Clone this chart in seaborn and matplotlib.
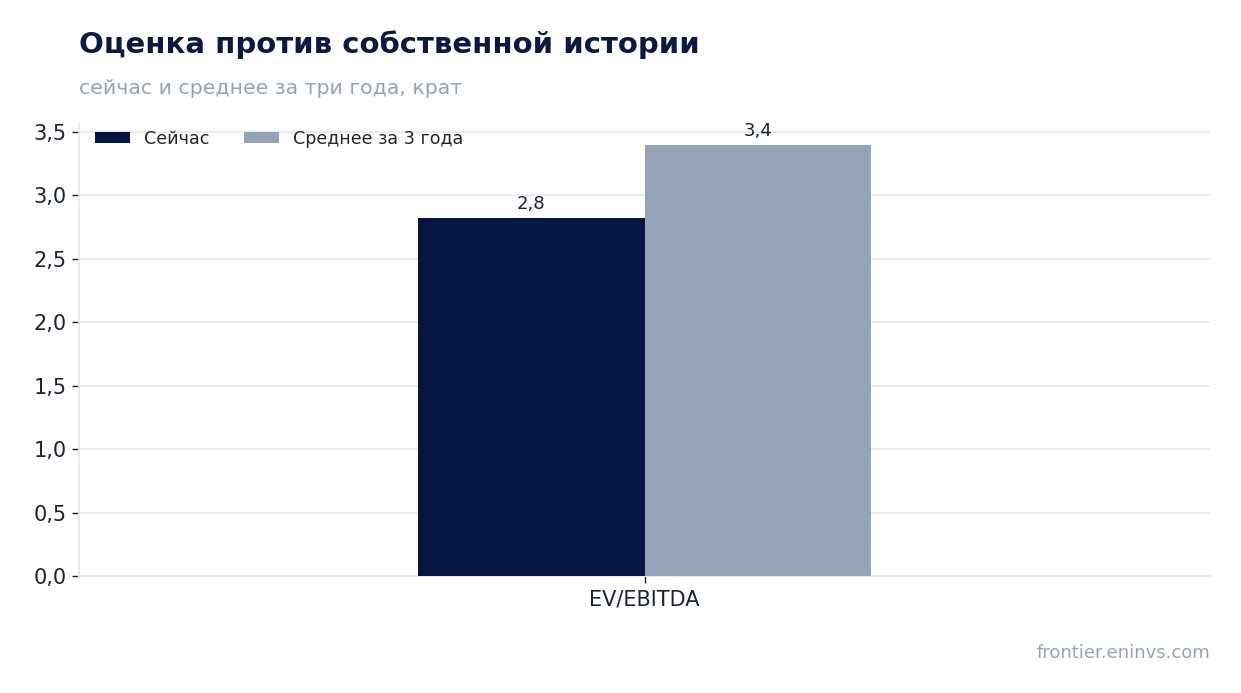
import matplotlib
matplotlib.use("Agg")
import matplotlib.pyplot as plt
import seaborn as sns
import pandas as pd

categories = ["EV/EBITDA"]
series_names = ["Сейчас", "Среднее за 3 года"]
values_now = [2.82]
values_avg = [3.40]
labels_now = ["2,8"]
labels_avg = ["3,4"]
yticks = [0.0, 0.5, 1.0, 1.5, 2.0, 2.5, 3.0, 3.5]

df = pd.DataFrame({
    "metric": categories * 2,
    "series": [series_names[0]] * len(categories) + [series_names[1]] * len(categories),
    "value": values_now + values_avg,
})

sns.set_theme(style="white")
plt.rcParams['font.family'] = ['DejaVu Sans']

DARK = "#061641"
GREY = "#94a3b8"
GRID = "#e2e8f0"

fig = plt.figure(figsize=(12.41, 6.93), dpi=100)
ax = fig.add_axes([0.0637, 0.1688, 0.9113, 0.6537])

sns.barplot(data=df, x="metric", y="value", hue="series", palette=[DARK, GREY],
            width=0.8, saturation=1, ax=ax, zorder=3, linewidth=0, edgecolor="none")

for container, labs in zip(ax.containers, [labels_now, labels_avg]):
    ax.bar_label(container, labels=labs, padding=3.5, fontsize=13, color="#1a2233")

ax.set_xlim(-1, 1)
ax.set_ylim(0, 3.57)
ax.set_yticks(yticks)
ax.set_yticklabels([f"{t:.1f}".replace(".", ",") for t in yticks])
ax.yaxis.grid(True, color=GRID, linewidth=1.2, zorder=0)
ax.set_axisbelow(True)
ax.set_xlabel("")
ax.set_ylabel("")
ax.tick_params(axis="both", labelsize=15, colors="#1a2233", length=5, width=1, left=True, bottom=True)
ax.tick_params(axis="y", pad=4)
ax.tick_params(axis="x", pad=4.5)
for s in ["top", "right"]:
    ax.spines[s].set_visible(False)
for s in ["left", "bottom"]:
    ax.spines[s].set_color(GRID)
    ax.spines[s].set_linewidth(1.2)

leg = ax.legend(loc="upper left", frameon=False, ncol=2, fontsize=12.6,
                handlelength=2.0, handleheight=0.65, handletextpad=0.8,
                columnspacing=2.0, bbox_to_anchor=(0.0, 1.02))

fig.text(0.0637, 0.936, "Оценка против собственной истории", fontsize=21,
         fontweight="bold", color="#0b1a40", va="center", ha="left")
fig.text(0.0637, 0.873, "сейчас и среднее за три года, крат", fontsize=14.7,
         color=GREY, va="center", ha="left")
fig.text(0.975, 0.058, "frontier.eninvs.com", fontsize=13, color=GREY,
         va="center", ha="right")

fig.savefig("out.png", dpi=100)
